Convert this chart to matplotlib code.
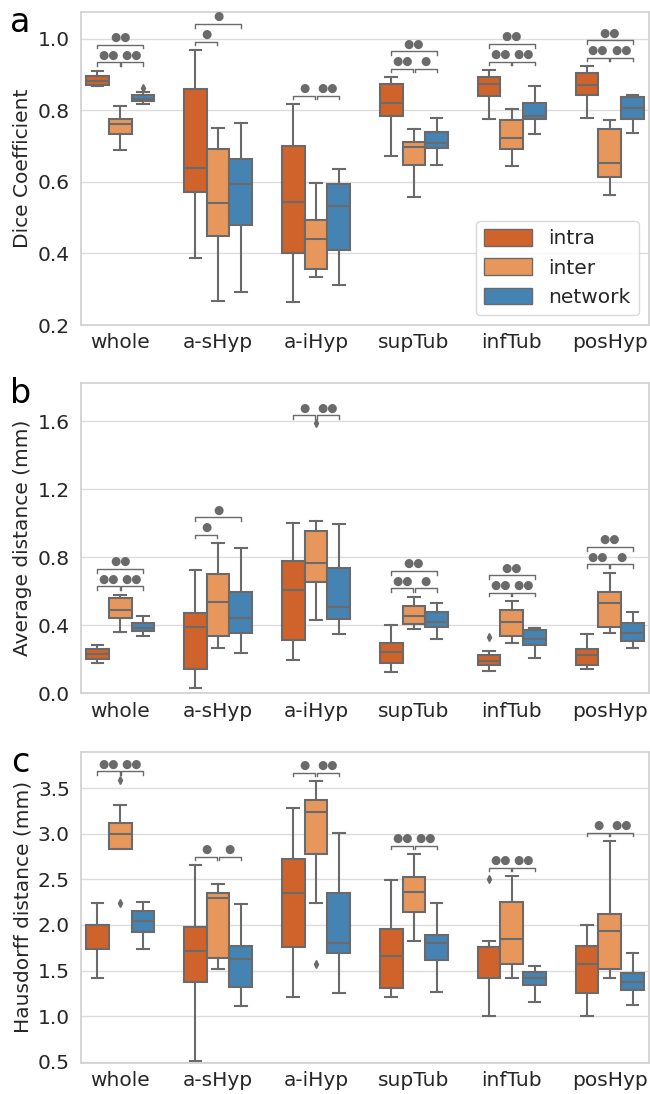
import matplotlib
matplotlib.use('Agg')
import matplotlib.pyplot as plt
from matplotlib.patches import Patch
import numpy as np

regions = ['whole', 'a-sHyp', 'a-iHyp', 'supTub', 'infTub', 'posHyp']
methods = ['intra', 'inter', 'network']
colors = ['#d0632b', '#e8975c', '#4583b3']
gray = '#6a6a6a'

# box stats per region: (whisker low, q1, median, q3, whisker high)
dice_intra = [(0.868, 0.872, 0.882, 0.895, 0.911), (0.386, 0.571, 0.640, 0.859, 0.969),
              (0.263, 0.400, 0.543, 0.701, 0.818), (0.673, 0.784, 0.822, 0.875, 0.893),
              (0.777, 0.841, 0.875, 0.893, 0.913), (0.779, 0.843, 0.871, 0.905, 0.924)]
dice_inter = [(0.688, 0.733, 0.762, 0.777, 0.813), (0.267, 0.448, 0.541, 0.692, 0.752),
              (0.333, 0.358, 0.441, 0.494, 0.598), (0.558, 0.646, 0.698, 0.713, 0.749),
              (0.644, 0.693, 0.722, 0.772, 0.804), (0.563, 0.613, 0.654, 0.748, 0.772)]
dice_network = [(0.818, 0.827, 0.833, 0.842, 0.852), (0.291, 0.479, 0.594, 0.664, 0.766),
                (0.313, 0.410, 0.534, 0.593, 0.637), (0.648, 0.695, 0.709, 0.739, 0.778),
                (0.735, 0.776, 0.785, 0.820, 0.869), (0.737, 0.775, 0.806, 0.837, 0.843)]
dice_fliers = [(0, 2, 0.862)]  # (region, method, value)

avg_intra = [(0.176, 0.202, 0.229, 0.259, 0.282), (0.031, 0.143, 0.392, 0.473, 0.724),
             (0.196, 0.314, 0.608, 0.780, 1.000), (0.127, 0.176, 0.245, 0.296, 0.400),
             (0.129, 0.167, 0.192, 0.227, 0.249), (0.145, 0.165, 0.224, 0.261, 0.349)]
avg_inter = [(0.363, 0.445, 0.490, 0.561, 0.580), (0.269, 0.337, 0.539, 0.702, 0.884),
             (0.431, 0.653, 0.767, 0.955, 1.014), (0.380, 0.406, 0.455, 0.512, 0.569),
             (0.298, 0.337, 0.420, 0.488, 0.543), (0.355, 0.392, 0.533, 0.598, 0.710)]
avg_network = [(0.337, 0.369, 0.386, 0.412, 0.457), (0.235, 0.353, 0.441, 0.598, 0.855),
               (0.351, 0.439, 0.510, 0.735, 0.996), (0.320, 0.392, 0.420, 0.480, 0.533),
               (0.210, 0.284, 0.322, 0.371, 0.386), (0.265, 0.310, 0.357, 0.416, 0.478)]
avg_fliers = [(2, 1, 1.588), (4, 0, 0.329)]

haus_intra = [(1.420, 1.734, 2.000, 2.004, 2.237), (0.507, 1.380, 1.719, 1.982, 2.657),
              (1.212, 1.755, 2.354, 2.726, 3.285), (1.212, 1.310, 1.664, 1.956, 2.496),
              (1.004, 1.420, 1.755, 1.763, 1.828), (1.004, 1.259, 1.577, 1.774, 2.004)]
haus_inter = [(2.828, 2.828, 3.000, 3.120, 3.314), (1.522, 1.642, 2.299, 2.347, 2.453),
              (2.237, 2.774, 3.234, 3.365, 3.577), (1.828, 2.142, 2.365, 2.529, 2.777),
              (1.420, 1.577, 1.847, 2.252, 2.536), (1.420, 1.522, 1.931, 2.120, 2.920)]
haus_network = [(1.741, 1.927, 2.040, 2.153, 2.248), (1.109, 1.321, 1.624, 1.766, 2.230),
                (1.255, 1.690, 1.799, 2.350, 3.007), (1.266, 1.617, 1.807, 1.891, 2.245),
                (1.157, 1.339, 1.423, 1.485, 1.551), (1.120, 1.285, 1.376, 1.478, 1.690)]
haus_fliers = [(0, 1, 3.595), (0, 1, 2.237), (2, 1, 1.577), (4, 0, 2.507)]

# significance marks: (region, pair, label); pair 'ab'=intra-inter, 'bc'=inter-network, 'ac'=intra-network
dice_sig = [(0, 'ab', '●●'), (0, 'bc', '●●'), (0, 'ac', '●●'),
            (1, 'ab', '●'), (1, 'ac', '●'),
            (2, 'ab', '●'), (2, 'bc', '●●'),
            (3, 'ab', '●●'), (3, 'bc', '●'), (3, 'ac', '●●'),
            (4, 'ab', '●●'), (4, 'bc', '●●'), (4, 'ac', '●●'),
            (5, 'ab', '●●'), (5, 'bc', '●●'), (5, 'ac', '●●')]
avg_sig = [(0, 'ab', '●●'), (0, 'bc', '●●'), (0, 'ac', '●●'),
           (1, 'ab', '●'), (1, 'ac', '●'),
           (2, 'ab', '●'), (2, 'bc', '●●'),
           (3, 'ab', '●●'), (3, 'bc', '●'), (3, 'ac', '●●'),
           (4, 'ab', '●●'), (4, 'bc', '●●'), (4, 'ac', '●●'),
           (5, 'ab', '●●'), (5, 'bc', '●'), (5, 'ac', '●●')]
haus_sig = [(0, 'ab', '●●'), (0, 'bc', '●●'),
            (1, 'ab', '●'), (1, 'bc', '●'),
            (2, 'ab', '●'), (2, 'bc', '●●'),
            (3, 'ab', '●●'), (3, 'bc', '●●'),
            (4, 'ab', '●●'), (4, 'bc', '●●'),
            (5, 'ab', '●'), (5, 'bc', '●●')]

plt.rcParams['font.family'] = 'DejaVu Sans'
plt.rcParams['text.color'] = '#262626'
plt.rcParams['xtick.color'] = '#262626'
plt.rcParams['ytick.color'] = '#262626'
plt.rcParams['axes.labelcolor'] = '#262626'

width = 0.233
offsets = [-width, 0, width]
fs = 14.5


def draw_panel(ax, data, fliers, sig, ylim, yticks, ylabel, letter):
    rng = ylim[1] - ylim[0]
    for m, series in enumerate(data):
        stats = []
        for r, (wlo, q1, med, q3, whi) in enumerate(series):
            fl = [v for (rr, mm, v) in fliers if rr == r and mm == m]
            stats.append(dict(med=med, q1=q1, q3=q3, whislo=wlo, whishi=whi, fliers=fl))
        pos = np.arange(len(regions)) + offsets[m]
        ax.bxp(stats, positions=pos, widths=width, capwidths=width / 2, patch_artist=True,
               showfliers=True, manage_ticks=False,
               boxprops=dict(facecolor=colors[m], edgecolor=gray, linewidth=1.5),
               medianprops=dict(color=gray, linewidth=1.5),
               whiskerprops=dict(color=gray, linewidth=1.5),
               capprops=dict(color=gray, linewidth=1.5),
               flierprops=dict(marker='d', markerfacecolor=gray, markeredgecolor=gray,
                               markersize=4, linestyle='none'))

    # significance brackets
    for r in range(len(regions)):
        tops = [series[r][4] for series in data] + [v for (rr, mm, v) in fliers if rr == r]
        low = max(tops) + 0.027 * rng
        high = low + 0.056 * rng
        for (rr, pair, label) in sig:
            if rr != r:
                continue
            i, j = {'ab': (0, 1), 'bc': (1, 2), 'ac': (0, 2)}[pair]
            y = high if pair == 'ac' else low
            x0 = r + offsets[i] + (0.006 if pair == 'bc' else 0)
            x1 = r + offsets[j] - (0.006 if pair == 'ab' else 0)
            tick = 0.012 * rng
            ax.plot([x0, x0, x1, x1], [y - tick, y, y, y - tick], color=gray, linewidth=1)
            ax.annotate(label, ((x0 + x1) / 2, y), xytext=(0, 0.5), textcoords='offset points',
                        ha='center', va='bottom', fontsize=8.5, color=gray)

    ax.set_xlim(-0.4, len(regions) - 0.6)
    ax.set_ylim(*ylim)
    ax.set_yticks(yticks)
    ax.set_xticks(np.arange(len(regions)))
    ax.set_xticklabels(regions)
    ax.tick_params(axis='both', labelsize=fs, length=0)
    ax.tick_params(axis='x', pad=6)
    ax.tick_params(axis='y', pad=8)
    ax.set_ylabel(ylabel, fontsize=fs, labelpad=4)
    ax.grid(axis='y', color='#dcdcdc', linewidth=1)
    ax.set_axisbelow(True)
    for s in ax.spines.values():
        s.set_color('#d0d0d0')
        s.set_linewidth(1.2)
    h = ax.get_position().height * 1094
    ax.text(-0.107, 1 - 20 / h, letter, transform=ax.transAxes, fontsize=24,
            va='baseline', ha='center', color='black')


fig = plt.figure(figsize=(6.5, 10.94), dpi=100)
ax_a = fig.add_axes([0.1246, 0.7029, 0.8738, 0.2861])
ax_b = fig.add_axes([0.1246, 0.3663, 0.8738, 0.2834])
ax_c = fig.add_axes([0.1246, 0.0286, 0.8738, 0.2843])

draw_panel(ax_a, [dice_intra, dice_inter, dice_network], dice_fliers, dice_sig,
           (0.2, 1.075), [0.2, 0.4, 0.6, 0.8, 1.0], 'Dice Coefficient', 'a')
draw_panel(ax_b, [avg_intra, avg_inter, avg_network], avg_fliers, avg_sig,
           (0.0, 1.825), [0.0, 0.4, 0.8, 1.2, 1.6], 'Average distance (mm)', 'b')
draw_panel(ax_c, [haus_intra, haus_inter, haus_network], haus_fliers, haus_sig,
           (0.49, 3.9), [0.5, 1.0, 1.5, 2.0, 2.5, 3.0, 3.5], 'Hausdorff distance (mm)', 'c')

handles = [Patch(facecolor=colors[k], edgecolor=gray, linewidth=1, label=methods[k]) for k in range(3)]
ax_a.legend(handles=handles, loc='lower right', fontsize=fs, handlelength=2.4, handleheight=0.9,
            frameon=True, edgecolor='#d0d0d0', fancybox=True)

fig.savefig('out.png', dpi=100)
